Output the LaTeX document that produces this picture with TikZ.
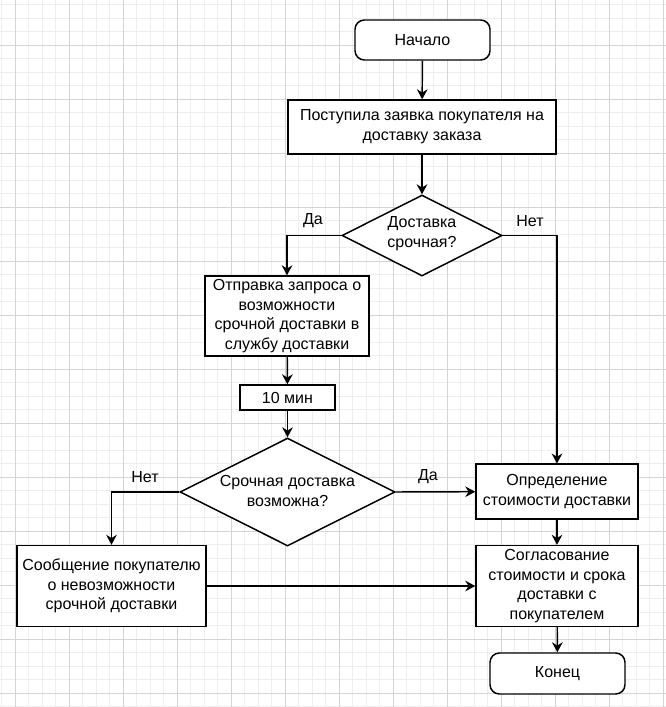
\documentclass[tikz,border=0pt]{standalone}
\usepackage{fontspec}
\setmainfont{Liberation Sans}
\usetikzlibrary{shapes.geometric,arrows.meta}
\definecolor{gridmajor}{RGB}{212,212,212}
\definecolor{gridminor}{RGB}{238,238,238}
\begin{document}
\begin{tikzpicture}[x=0.75pt,y=-0.75pt,
  every node/.style={font=\fontsize{12}{14.8}\selectfont},
  box/.style={draw=black,line width=1.1pt,fill=white,align=center,inner sep=0pt},
  rbox/.style={box,rounded corners=7pt},
  dia/.style={draw=black,line width=1.1pt,fill=white,diamond,inner sep=0pt},
  txt/.style={align=center,inner sep=0pt},
  conn/.style={line width=1.1pt,-{Stealth[length=7.5pt,width=8pt,inset=2.5pt]}},
  lbl/.style={inner sep=0pt}]
\useasboundingbox (0,0) rectangle (666,707);
\fill[white] (0,0) rectangle (666,707);
% minor grid
\foreach \k in {-1,...,49} {
  \draw[gridminor,line width=0.75pt] (15.3+13.5*\k,0) -- (15.3+13.5*\k,707);
}
\foreach \k in {-4,...,49} {
  \draw[gridminor,line width=0.75pt] (0,45.3+13.5*\k) -- (666,45.3+13.5*\k);
}
% major grid
\foreach \k in {0,...,12} {
  \draw[gridmajor,line width=0.75pt] (15.3+54*\k,0) -- (15.3+54*\k,707);
}
\foreach \k in {-1,...,13} {
  \draw[gridmajor,line width=0.75pt] (0,45.3+54*\k) -- (666,45.3+54*\k);
}
% nodes
\node[rbox,minimum width=101.25pt,minimum height=30pt] (start) at (422.5,40) {Начало};
\node[box,minimum width=201pt,minimum height=40.5pt] (req) at (422,127) {Поступила заявка покупателя на\\доставку заказа};
\node[dia,minimum width=120pt,minimum height=60.75pt] (d1) at (422,235.5) {};
\node[txt] (d1t) at (422,234) {Доставка\\срочная?};
\node[box,minimum width=123pt,minimum height=60pt] (send) at (287,316) {Отправка запроса о\\возможности\\срочной доставки в\\службу доставки};
\node[box,minimum width=71.25pt,minimum height=18.75pt] (wait) at (287.5,397.5) {10 мин};
\node[dia,minimum width=161.25pt,minimum height=81pt] (d2) at (287.5,492) {};
\node[txt] (d2t) at (287.5,491) {Срочная доставка\\возможна?};
\node[box,minimum width=141.75pt,minimum height=60.75pt] (msg) at (111.5,586) {Сообщение покупателю\\о невозможности\\срочной доставки};
\node[box,minimum width=121.5pt,minimum height=41.25pt] (cost) at (557,491.7) {Определение\\стоимости доставки};
\node[box,minimum width=121.5pt,minimum height=60.75pt] (agree) at (557,586) {Согласование\\стоимости и срока\\доставки с\\покупателем};
\node[rbox,minimum width=101.25pt,minimum height=30.75pt] (end) at (557.5,673.5) {Конец};
% labels
\node[lbl] (l1) at (313,221) {Да};
\node[lbl] (l2) at (530,221) {Нет};
\node[lbl] (l3) at (145,477) {Нет};
\node[lbl] (l4) at (428,477) {Да};
% connectors
\draw[conn] (start) -- (req);
\draw[conn] (req) -- (d1);
\draw[conn] (d1.west) -| (send.north);
\draw[conn] (d1.east) -| (cost.north);
\draw[conn] (send) -- (wait);
\draw[conn] (wait) -- (d2);
\draw[conn] (d2.west) -| (msg.north);
\draw[conn] (d2.east) -- (cost.west);
\draw[conn] (cost) -- (agree);
\draw[conn] (msg.east) -- (agree.west);
\draw[conn] (agree) -- (end);
\end{tikzpicture}
\end{document}
